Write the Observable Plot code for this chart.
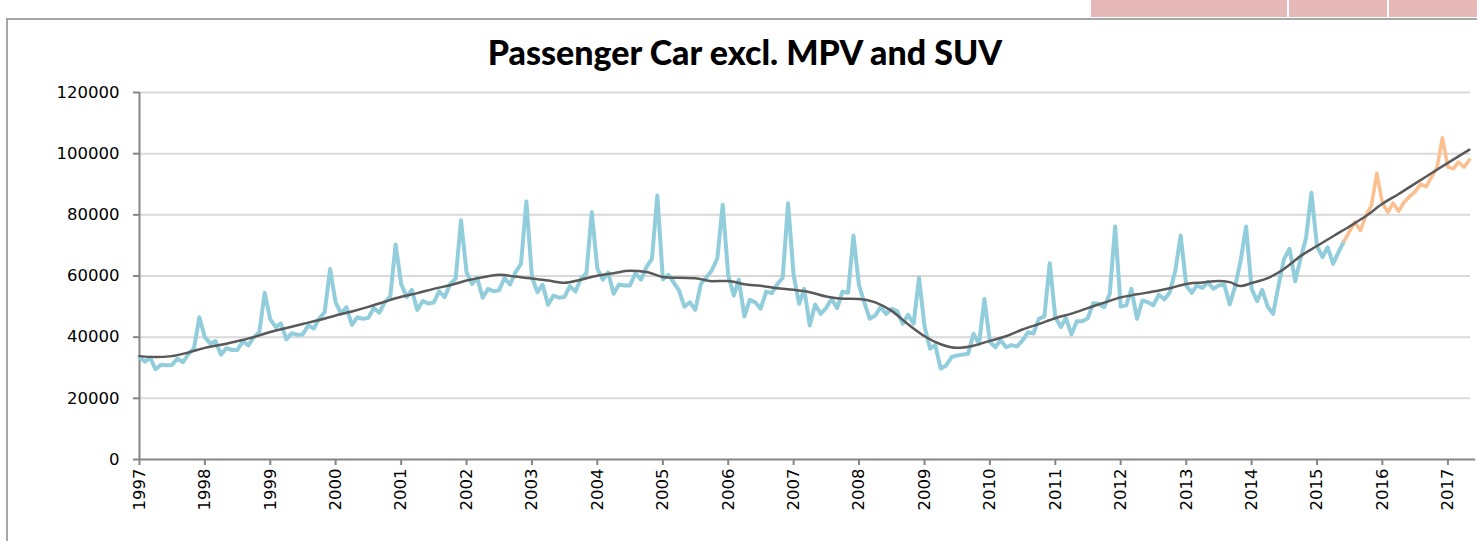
<!DOCTYPE html>
<html><head><meta charset="utf-8">
<script src="https://cdn.jsdelivr.net/npm/d3@7"></script>
<script src="https://cdn.jsdelivr.net/npm/@observablehq/plot@0.6"></script>
<style>
html,body{margin:0;padding:0;background:#fff;}
body{width:1477px;height:541px;overflow:hidden;position:relative;font-family:"DejaVu Sans",sans-serif;}
#frame{position:absolute;left:6px;top:18px;width:1480px;height:540px;border-left:2px solid #a6a6a6;border-top:2px solid #a6a6a6;box-sizing:border-box;}
#title{position:absolute;left:8px;width:1474px;top:31px;text-align:center;font-family:Lato,"Open Sans",sans-serif;font-weight:900;font-size:34px;color:#000;line-height:42px;}
#chart{position:absolute;left:0;top:0;}
.pink{position:absolute;top:0;height:17px;background:#e6b8b7;}
</style>
</head><body>
<div class="pink" style="left:1091px;width:196px"></div>
<div class="pink" style="left:1289px;width:98px"></div>
<div class="pink" style="left:1389px;width:88px"></div>
<div id="frame"></div>
<div id="title">Passenger Car excl. MPV and SUV</div>
<div id="chart"></div>
<script>
// Monthly values, Jan..Dec per year (historical series)
const years = [1997,1998,1999,2000,2001,2002,2003,2004,2005,2006,2007,2008,2009,2010,2011,2012,2013,2014,2015];
const v1997 = [33500,32000,33300,29500,31000,30800,30900,33000,31800,34500,36300,46500];
const v1998 = [40000,37900,38700,34300,36400,35800,35800,38600,37300,40000,41600,54500];
const v1999 = [45800,43300,44500,39300,41300,40800,40900,43800,42800,46100,48200,62300];
const v2000 = [51400,47700,49800,44000,46500,46000,46300,49500,48000,51400,53300,70300];
const v2001 = [57400,53100,55500,48900,51800,51000,51300,55000,53100,57400,59100,78200];
const v2002 = [61200,57400,59400,52900,55800,55000,55300,59300,57200,61200,64000,84400];
const v2003 = [59600,54700,57200,50600,53600,52900,53100,56700,54900,59100,60900,80900];
const v2004 = [62400,58800,61200,54200,57200,56900,56900,60900,58800,62900,65600,86300];
const v2005 = [58900,60400,58000,55300,50000,51400,48900,57400,59600,61800,65800,83300];
const v2006 = [60200,53600,58800,46800,52200,51400,49300,54900,54400,57200,59400,83800];
const v2007 = [60200,50900,55800,43800,50700,47600,49500,52500,49500,54900,54500,73200];
const v2008 = [56900,51100,46000,47100,49800,47600,49300,48500,44400,47300,44400,59400];
const v2009 = [43500,36200,37500,29700,30700,33500,34000,34300,34600,41100,37800,52500];
const v2010 = [38400,36700,39100,36700,37400,37000,38900,41600,41200,46000,46800,64200];
const v2011 = [46500,43300,46300,40900,45200,45200,46200,51100,50900,49800,54200,76200];
const v2012 = [50000,50400,55800,46000,52000,51400,50400,53900,52300,54700,61800,73200];
const v2013 = [56900,54500,56900,56100,58000,55800,56900,57200,50700,56600,65100,76200];
const v2014 = [55800,51800,55500,50000,47600,57100,65600,68900,58300,65600,72500,87200];
const v2015 = [69700,66200,69400,64000,67800,71400];
const histValues = [v1997,v1998,v1999,v2000,v2001,v2002,v2003,v2004,v2005,v2006,v2007,v2008,v2009,v2010,v2011,v2012,v2013,v2014,v2015];

// Forecast series, monthly from Jun 2015 to May 2017
const forecastStart = [2015, 5];
const forecastValues = [71400,74500,77600,74900,79800,83100,93600,
  83800,80900,83800,81200,84100,86000,87500,90000,89200,92300,95400,105200,
  95600,95100,97200,95600,98000];

// Trend line
const trendDates = ["1997-01","1997-04","1997-07","1997-10","1998-01","1998-04","1998-07","1998-10",
 "1999-01","1999-04","1999-07","1999-10","2000-01","2000-04","2000-07","2000-10",
 "2001-01","2001-04","2001-07","2001-10","2002-01","2002-04","2002-07","2002-10",
 "2003-01","2003-04","2003-07","2003-10","2004-01","2004-04","2004-07","2004-10",
 "2005-01","2005-04","2005-07","2005-10","2006-01","2006-04","2006-07","2006-10",
 "2007-01","2007-04","2007-07","2007-10","2008-01","2008-04","2008-07","2008-10",
 "2009-01","2009-04","2009-07","2009-10","2010-01","2010-04","2010-07","2010-10",
 "2011-01","2011-04","2011-07","2011-10","2012-01","2012-04","2012-07","2012-10",
 "2013-01","2013-04","2013-07","2013-09","2013-11","2014-01","2014-04","2014-07","2014-10",
 "2015-01","2015-04","2015-07","2015-10","2016-01","2016-04","2016-07","2016-10",
 "2017-01","2017-05"];
const trendValues = [33800,33500,33800,35000,36500,37500,38700,40000,
 41700,43000,44300,45600,47100,48400,49900,51600,
 53200,54400,55800,57000,58500,59600,60400,59800,
 59200,58500,57800,58800,60100,60900,61700,61300,
 59700,59400,59300,58300,58400,57300,56800,56000,
 55500,54700,53300,52600,52500,51400,48600,44200,
 40300,37700,36500,37200,38800,40300,42500,44300,
 46200,47700,49500,51300,53000,54000,54900,56000,
 57400,57900,58400,58000,56700,57700,59300,62300,66500,
 69800,73000,76200,79600,83600,86800,90200,93600,
 97000,101300];

const yTicks = [0,20000,40000,60000,80000,100000,120000];
const xTickYears = d3.range(1997, 2018);

// Build tables
const hist = [];
histValues.forEach((arr, i) => arr.forEach((v, m) => hist.push({date: new Date(Date.UTC(years[i], m, 1)), value: v})));
const fc = forecastValues.map((v, k) => ({date: new Date(Date.UTC(forecastStart[0], forecastStart[1] + k, 1)), value: v}));
const trend = trendDates.map((s, i) => {
  const [yy, mm] = s.split("-").map(Number);
  return {date: new Date(Date.UTC(yy, mm - 1, 1)), value: trendValues[i]};
});

const x0 = new Date(Date.UTC(1997,0,1));
const xEnd = new Date(Date.UTC(2017,4,7));
const axisColor = "#868686";

const chart = Plot.plot({
  width: 1477, height: 541,
  marginLeft: 139, marginRight: 7, marginTop: 92, marginBottom: 82,
  style: {fontFamily: "'DejaVu Sans', sans-serif", fontSize: "16.5px", color: "#000", background: "transparent", overflow: "visible"},
  x: {type: "utc", domain: [x0, xEnd], label: null},
  y: {domain: [0, 120000], label: null},
  marks: [
    Plot.gridY(yTicks.slice(1), {stroke: "#d9d9d9", strokeWidth: 2, strokeOpacity: 1}),
    Plot.axisY(yTicks, {label: null, tickSize: 6, tickPadding: 14, stroke: axisColor, strokeWidth: 2, tickFormat: d3.format("d"), fontSize: 16.5, fill: "#000"}),
    Plot.axisX(xTickYears.map(y => new Date(Date.UTC(y,0,1))), {label: null, tickSize: 6, tickPadding: 3, tickRotate: -90, stroke: axisColor, strokeWidth: 2, tickFormat: d => String(d.getUTCFullYear()), fontSize: 16.5, fill: "#000"}),
    Plot.ruleX([x0], {y1: 0, y2: 120000, stroke: axisColor, strokeWidth: 2}),
    Plot.ruleY([0], {x1: x0, x2: new Date(Date.UTC(2017,5,5)), stroke: axisColor, strokeWidth: 2}),
    Plot.line(hist, {x: "date", y: "value", stroke: "#92cddc", strokeWidth: 4, strokeLinejoin: "round"}),
    Plot.line(fc, {x: "date", y: "value", stroke: "#fac090", strokeWidth: 3.6, strokeLinejoin: "round"}),
    Plot.line(trend, {x: "date", y: "value", stroke: "#595959", strokeWidth: 2.5, curve: "monotone-x"})
  ]
});
document.getElementById("chart").appendChild(chart);
</script>
</body></html>
